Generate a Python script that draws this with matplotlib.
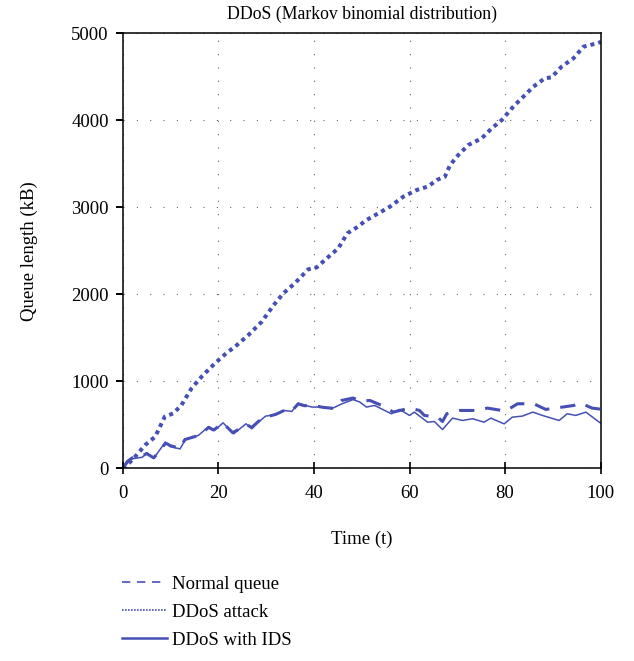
import matplotlib
matplotlib.use('Agg')
import matplotlib.pyplot as plt
from matplotlib.lines import Line2D

plt.rcParams['font.family'] = ['Liberation Serif', 'DejaVu Serif']

# queue length over time for the three scenarios
t_attack = [0, 1, 2.6, 4.7, 6.8, 8.8, 10.6, 12.3, 14.4, 16.5, 19.3, 21.8, 23.5, 26.3,
            29.1, 31.5, 33.6, 36, 38.8, 40.6, 42.7, 45.1, 47, 49, 51, 53.5, 55.9,
            58.7, 61.5, 63.9, 65.7, 67.4, 68.5, 70.2, 72.3, 75.1, 77.2, 79.3, 81.7,
            83.8, 85.9, 88.3, 89.7, 91.8, 94.3, 96.4, 99.2, 100]
q_attack = [0, 40, 133, 268, 363, 593, 632, 727, 919, 1053, 1207, 1329, 1398, 1532,
            1685, 1870, 2011, 2126, 2287, 2310, 2414, 2529, 2701, 2770, 2854, 2931, 3007,
            3122, 3199, 3240, 3314, 3352, 3486, 3601, 3716, 3793, 3908, 4003, 4156,
            4271, 4386, 4483, 4494, 4616, 4713, 4846, 4885, 4900]

t_ids = [0, 1, 1.7, 4.1, 5.1, 6.5, 8.9, 9.9, 12, 13.2, 15.8, 18, 19.2, 21, 23.2, 25.8,
         27, 28.4, 29.9, 32, 33.7, 35.4, 36.7, 38.2, 39.6, 42.3, 43.7, 45.8, 48.2,
         49.6, 51, 52.7, 56.2, 57.9, 60, 61, 63.8, 65.2, 66.9, 69, 71.1, 73.2, 75.6,
         77, 79.8, 81.5, 83.6, 85.8, 87.8, 91.3, 93, 94.8, 96.9, 99.7, 100]
q_ids = [0, 60, 108, 127, 177, 115, 300, 250, 223, 338, 377, 480, 435, 523, 396, 512,
         454, 531, 600, 615, 665, 654, 750, 723, 704, 704, 685, 740, 790,
         762, 704, 723, 627, 677, 608, 646, 530, 538, 446, 577, 550, 570, 530,
         577, 511, 588, 600, 646, 608, 550, 627, 608, 646, 530, 520]

t_normal = [0, 1, 2, 4, 5, 6.5, 9, 10, 12, 13, 16, 18, 19, 21, 23, 26, 27, 28.4, 30,
            32, 34, 35.4, 36.7, 38, 40, 42, 44, 45.8, 48.2, 49.9, 51.7, 54.2, 56.6,
            60, 62.1, 63.1, 65.9, 66.9, 67.8, 70.4, 73.9, 76.3, 80.1, 82.6, 86, 88.5,
            92, 94.4, 95.8, 98.2, 100]
q_normal = [0, 80, 120, 140, 170, 120, 290, 260, 230, 330, 380, 470, 440, 520, 410,
            500, 470, 540, 590, 620, 670, 660, 740, 720, 720, 700, 690, 780, 808, 773,
            780, 723, 646, 692, 665, 608, 588, 538, 627, 665, 665, 692, 658, 742, 742,
            677, 704, 723, 750, 692, 680]

labels = ['Normal queue', 'DDoS attack', 'DDoS with IDS']
blue = '#4650b4'

fig = plt.figure(figsize=(6.34, 6.61), dpi=100)
ax = fig.add_axes([0.1935, 0.2915, 0.754, 0.6581])

ax.plot(t_normal, q_normal, color=blue, lw=2.2, linestyle=(0, (5, 3.6)))
ax.plot(t_attack, q_attack, color=blue, lw=2.9, linestyle=(0, (1, 1)))
ax.plot(t_ids, q_ids, color=blue, lw=1.1)

ax.set_xlim(0, 100)
ax.set_ylim(0, 5000)
ax.set_xticks(range(0, 101, 20))
ax.set_yticks(range(0, 5001, 1000))
ax.grid(True, color='#666666', lw=0.8, linestyle=(0, (1, 11)))
ax.tick_params(axis='x', direction='inout', length=8, width=1.2, labelsize=13.5, pad=8)
ax.tick_params(axis='y', direction='out', length=5, width=1.4, labelsize=13.5, pad=5)
for s in ax.spines.values():
    s.set_linewidth(1.1)

ax.set_title('DDoS (Markov binomial distribution)', fontsize=12.8, pad=10)
ax.set_xlabel('Time (t)', fontsize=13.5, labelpad=21)
ax.set_ylabel('Queue length (kB)', fontsize=13.5, labelpad=24)

# thin legend keys, placed under the axes
handles = [Line2D([], [], color=blue, lw=1.2, linestyle=(0, (5, 4))),
           Line2D([], [], color=blue, lw=1.2, linestyle=(0, (1, 0.8))),
           Line2D([], [], color=blue, lw=1.8)]
fig.legend(handles, labels, loc='upper left', bbox_to_anchor=(0.192, 0.129),
           frameon=False, fontsize=13.5, handlelength=2.4, handletextpad=0.3,
           labelspacing=0.58, borderpad=0, borderaxespad=0)

fig.savefig('out.png', dpi=100)
